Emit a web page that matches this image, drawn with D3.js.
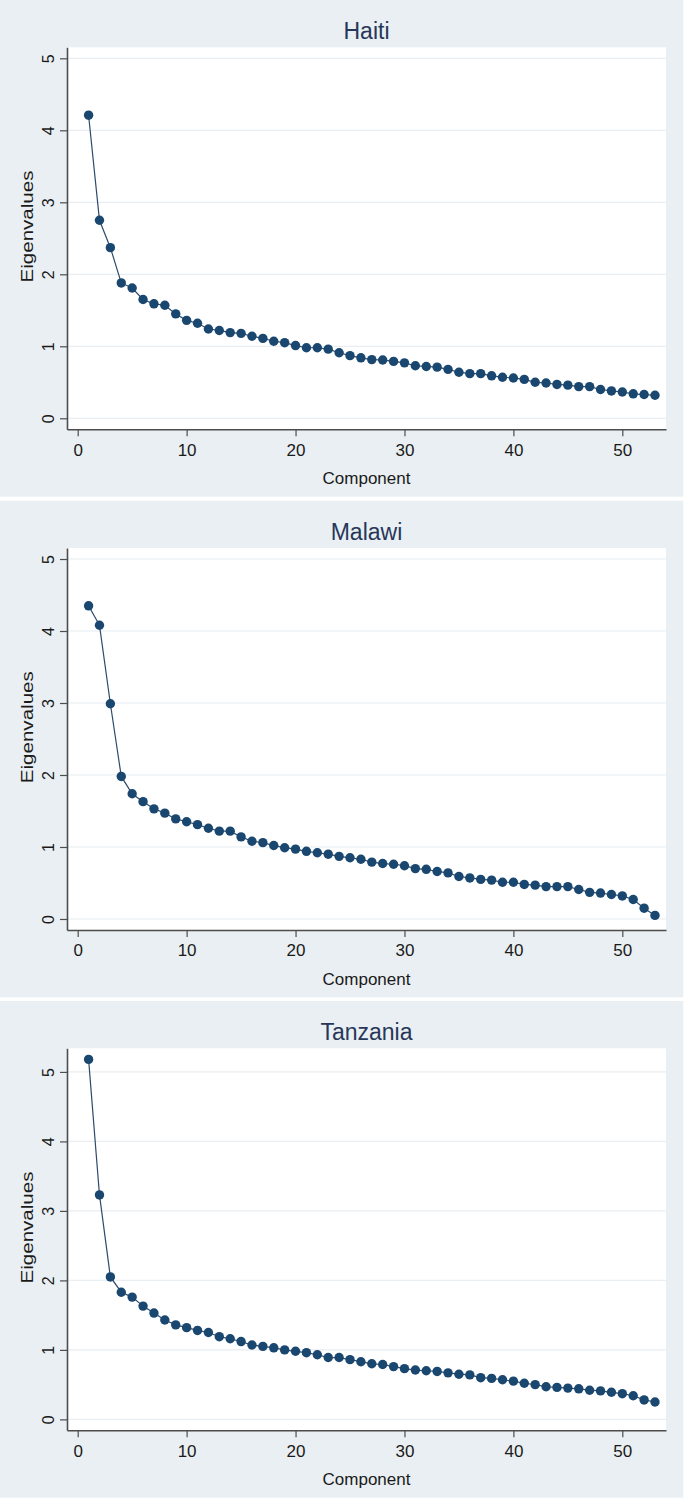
<!DOCTYPE html>
<html>
<head>
<meta charset="utf-8">
<script src="https://cdn.jsdelivr.net/npm/d3@7"></script>
<style>
  html, body { margin: 0; padding: 0; background: #ffffff; }
  svg { display: block; }
  text { font-family: "Liberation Sans", Arial, Helvetica, sans-serif; }
</style>
</head>
<body>
<div id="chart"></div>
<script>
// ---------------- DATA ----------------
const countries = ["Haiti", "Malawi", "Tanzania"];

const haitiEigen = [4.21, 2.75, 2.37, 1.88, 1.81, 1.65, 1.59, 1.57, 1.45, 1.36,
  1.32, 1.24, 1.22, 1.19, 1.18, 1.14, 1.11, 1.07, 1.05, 1.01,
  0.98, 0.98, 0.96, 0.91, 0.87, 0.84, 0.815, 0.81, 0.79, 0.77,
  0.73, 0.72, 0.71, 0.68, 0.64, 0.62, 0.62, 0.59, 0.57, 0.56,
  0.54, 0.50, 0.49, 0.47, 0.46, 0.44, 0.44, 0.40, 0.38, 0.365,
  0.34, 0.33, 0.32];

const malawiEigen = [4.35, 4.08, 2.99, 1.98, 1.74, 1.63, 1.53, 1.47, 1.39, 1.35,
  1.31, 1.26, 1.22, 1.22, 1.14, 1.08, 1.06, 1.02, 0.99, 0.97,
  0.94, 0.92, 0.90, 0.87, 0.85, 0.83, 0.79, 0.77, 0.76, 0.74,
  0.70, 0.69, 0.66, 0.64, 0.59, 0.57, 0.55, 0.54, 0.51, 0.51,
  0.48, 0.47, 0.45, 0.45, 0.45, 0.41, 0.37, 0.36, 0.34, 0.32,
  0.27, 0.15, 0.05];

const tanzaniaEigen = [5.18, 3.23, 2.05, 1.83, 1.76, 1.63, 1.53, 1.43, 1.36, 1.32,
  1.28, 1.25, 1.19, 1.16, 1.12, 1.07, 1.05, 1.03, 1.00, 0.98,
  0.96, 0.93, 0.89, 0.89, 0.86, 0.83, 0.80, 0.79, 0.76, 0.73,
  0.71, 0.70, 0.69, 0.67, 0.65, 0.64, 0.60, 0.59, 0.57, 0.55,
  0.52, 0.50, 0.47, 0.46, 0.45, 0.44, 0.42, 0.41, 0.39, 0.37,
  0.34, 0.28, 0.25];

const xTickValues = [0, 10, 20, 30, 40, 50];
const yTickValues = [0, 1, 2, 3, 4, 5];
const xAxisTitle = "Component";
const yAxisTitle = "Eigenvalues";

// ---------------- LAYOUT ----------------
const W = 686, H = 1499;
const panelTops = [0, 500.7, 1001];
const panelW = 683.3, panelH = 496.7;
const plotL = 67, plotR = 666, plotT = 47.3, plotB = 429.3;
const yDomains = [[-0.153, 5.153], [-0.153, 5.153], [-0.157, 5.34]];
const seriesList = [haitiEigen, malawiEigen, tanzaniaEigen];

const colBg = "#e9eff2";
const colNavy = "#1a476f";
const colLine = "#2e4a6b";
const colGrid = "#e8eef1";
const colAxis = "#4d4d4d";
const colTitle = "#27375a";
const colText = "#1a1a1a";

const svg = d3.select("#chart").append("svg")
  .attr("width", W).attr("height", H)
  .attr("viewBox", `0 0 ${W} ${H}`);

const x = d3.scaleLinear().domain([-0.982, 54.01]).range([plotL, plotR]);

countries.forEach((name, pi) => {
  const data = seriesList[pi];
  const g = svg.append("g").attr("transform", `translate(0,${panelTops[pi]})`);

  // panel background
  g.append("rect").attr("x", 0).attr("y", 0)
    .attr("width", panelW).attr("height", panelH).attr("fill", colBg);

  // plot region
  g.append("rect").attr("x", plotL).attr("y", plotT)
    .attr("width", plotR - plotL).attr("height", plotB - plotT).attr("fill", "#ffffff");

  const y = d3.scaleLinear().domain(yDomains[pi]).range([plotB, plotT]);

  // grid
  g.append("g").selectAll("line").data(yTickValues).join("line")
    .attr("x1", plotL).attr("x2", plotR)
    .attr("y1", d => y(d)).attr("y2", d => y(d))
    .attr("stroke", colGrid).attr("stroke-width", 1.2);

  // title
  g.append("text")
    .attr("x", (plotL + plotR) / 2).attr("y", 39.3)
    .attr("text-anchor", "middle")
    .attr("font-size", 23).attr("fill", colTitle)
    .text(name);

  // y axis
  const yAxis = g.append("g").attr("transform", `translate(${plotL},0)`)
    .call(d3.axisLeft(y).tickValues(yTickValues).tickFormat(d3.format("d"))
      .tickSize(7).tickSizeOuter(0));
  yAxis.select(".domain").attr("stroke", colAxis).attr("stroke-width", 1.6);
  yAxis.selectAll(".tick line").attr("stroke", colAxis).attr("stroke-width", 1.2);
  yAxis.selectAll(".tick text")
    .attr("x", 0).attr("dy", 0)
    .attr("text-anchor", "middle")
    .attr("transform", `translate(${53.5 - plotL},0) rotate(-90)`)
    .attr("font-size", 16).attr("fill", colText)
    .attr("font-family", '"Liberation Sans", Arial, sans-serif');

  // x axis
  const xAxis = g.append("g").attr("transform", `translate(0,${plotB})`)
    .call(d3.axisBottom(x).tickValues(xTickValues).tickFormat(d3.format("d"))
      .tickSize(7).tickSizeOuter(0));
  xAxis.select(".domain").attr("stroke", colAxis).attr("stroke-width", 1.6);
  xAxis.selectAll(".tick line").attr("stroke", colAxis).attr("stroke-width", 1.2);
  xAxis.selectAll(".tick text")
    .attr("y", 26.4).attr("dy", 0)
    .attr("font-size", 17).attr("fill", colText)
    .attr("font-family", '"Liberation Sans", Arial, sans-serif');

  // axis titles
  g.append("text")
    .attr("x", (plotL + plotR) / 2).attr("y", 484)
    .attr("text-anchor", "middle")
    .attr("font-size", 17).attr("fill", colText)
    .text(xAxisTitle);

  g.append("text")
    .attr("transform", `translate(33.3,226.5) rotate(-90)`)
    .attr("text-anchor", "middle")
    .attr("font-size", 16.5).attr("fill", colText)
    .attr("textLength", 112).attr("lengthAdjust", "spacingAndGlyphs")
    .text(yAxisTitle);

  // connecting line
  const line = d3.line().x((d, i) => x(i + 1)).y(d => y(d));
  g.append("path").datum(data)
    .attr("d", line)
    .attr("fill", "none")
    .attr("stroke", colLine).attr("stroke-width", 1.2);

  // markers
  g.append("g").selectAll("circle").data(data).join("circle")
    .attr("cx", (d, i) => x(i + 1))
    .attr("cy", d => y(d))
    .attr("r", 4.7)
    .attr("fill", colNavy);
});
</script>
</body>
</html>
